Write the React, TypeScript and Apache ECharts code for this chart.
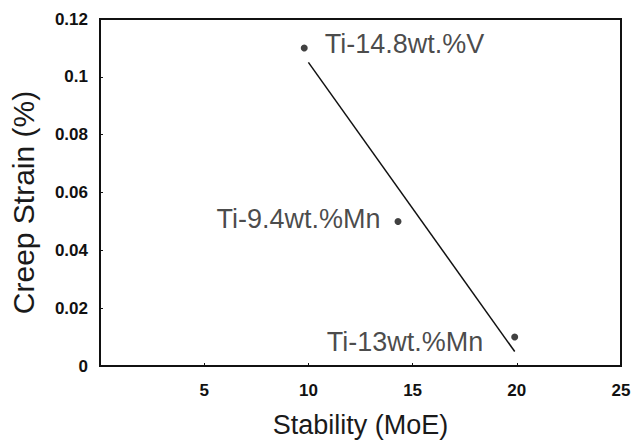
import React, { useEffect, useRef } from "react";
import * as echarts from "echarts";

const alloys = ["Ti-14.8wt.%V", "Ti-9.4wt.%Mn", "Ti-13wt.%Mn"];
const stability = [9.8, 14.3, 19.9];
const creepStrain = [0.11, 0.05, 0.01];
const labelSides = ["right", "left", "left"];
const trendX = [10, 19.9];
const trendY = [0.105, 0.005];

export default function App() {
  const ref = useRef<HTMLDivElement>(null);
  useEffect(() => {
    if (!ref.current) return;
    const chart = echarts.init(ref.current, undefined, { renderer: "svg" });
    const font = "'Liberation Sans', Arial, sans-serif";
    const labelDist = [17, 14, 28];
    const labelOff = [[0, -4], [0, -2], [0, 5]];
    chart.setOption({
      animation: false,
      backgroundColor: "#fff",
      grid: {
        left: 100,
        top: 19,
        right: 23,
        bottom: 75,
        outerBoundsMode: "none",
        containLabel: false,
        show: true,
        borderColor: "#111",
        borderWidth: 2,
      },
      xAxis: {
        type: "value",
        min: 0,
        max: 25,
        interval: 5,
        name: "Stability (MoE)",
        nameLocation: "middle",
        nameGap: 45,
        nameTextStyle: { fontFamily: font, fontSize: 27, color: "#1a1a1a" },
        axisLine: { lineStyle: { color: "#111", width: 2 } },
        axisTick: { inside: true, length: 3, lineStyle: { color: "#111" } },
        axisLabel: {
          margin: 16,
          fontFamily: font,
          fontWeight: "bold",
          fontSize: 17,
          color: "#111",
          formatter: (v: number) => (v === 0 ? "" : String(v)),
        },
        splitLine: { show: false },
      },
      yAxis: {
        type: "value",
        min: 0,
        max: 0.12,
        interval: 0.02,
        name: "Creep Strain (%)",
        nameLocation: "middle",
        nameGap: 62,
        nameTextStyle: {
          fontFamily: font,
          fontSize: 30,
          color: "#1a1a1a",
          padding: [0, 20, 0, 0],
        },
        axisLine: { lineStyle: { color: "#111", width: 2 } },
        axisTick: { inside: true, length: 3, lineStyle: { color: "#111" } },
        axisLabel: {
          margin: 12,
          fontFamily: font,
          fontWeight: "bold",
          fontSize: 17,
          color: "#111",
          formatter: (v: number) => String(+v.toFixed(2)),
        },
        splitLine: { show: false },
      },
      series: [
        {
          type: "line",
          data: trendX.map((x, i) => [x, trendY[i]]),
          symbol: "none",
          lineStyle: { color: "#111", width: 1.5 },
          silent: true,
        },
        {
          type: "scatter",
          symbol: "circle",
          symbolSize: 7,
          itemStyle: { color: "#111" },
          data: stability.map((x, i) => ({
            value: [x, creepStrain[i]],
            name: alloys[i],
            label: {
              show: true,
              position: labelSides[i],
              distance: labelDist[i],
              offset: labelOff[i],
              formatter: alloys[i],
              fontFamily: font,
              fontSize: 27,
              color: "#1a1a1a",
            },
          })),
        },
      ],
    });
    return () => chart.dispose();
  }, []);
  return (
    <div
      ref={ref}
      style={{ position: "fixed", left: 0, top: 0, width: 644, height: 441 }}
    />
  );
}
